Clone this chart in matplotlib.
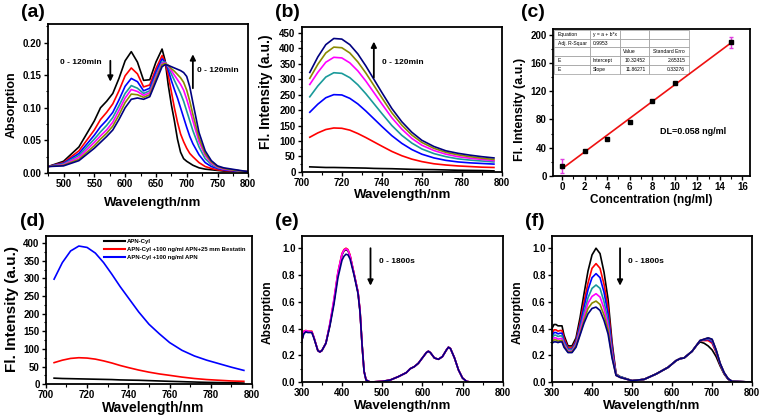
import matplotlib
matplotlib.use('Agg')
import matplotlib.pyplot as plt
from matplotlib.ticker import MultipleLocator, FormatStrFormatter

plt.rcParams['font.family'] = ['Liberation Sans', 'DejaVu Sans']
plt.rcParams['font.weight'] = 'bold'
plt.rcParams['axes.labelweight'] = 'bold'

colors7 = ['#000000', '#ff0000', '#0000ff', '#1a9a9a', '#ff00ff', '#8a8a00', '#000080']

# ---- (a) absorption vs time ----
wl_a = [475, 500, 525, 550, 560, 570, 580, 590, 600, 610, 620, 630, 640, 650, 660, 665,
        670, 675, 680, 685, 690, 695, 700, 705, 710, 720, 730, 740, 750, 760, 780, 800]
abs_a = [
    [0.010, 0.018, 0.040, 0.080, 0.100, 0.110, 0.122, 0.145, 0.172, 0.186, 0.170, 0.142, 0.143, 0.170, 0.190, 0.172,
     0.135, 0.105, 0.080, 0.052, 0.032, 0.022, 0.018, 0.015, 0.012, 0.008, 0.006, 0.005, 0.004, 0.003, 0.003, 0.002],
    [0.010, 0.016, 0.034, 0.066, 0.082, 0.093, 0.106, 0.126, 0.149, 0.161, 0.152, 0.132, 0.135, 0.160, 0.180, 0.170,
     0.150, 0.125, 0.100, 0.078, 0.060, 0.048, 0.038, 0.030, 0.025, 0.016, 0.010, 0.007, 0.005, 0.004, 0.003, 0.002],
    [0.010, 0.015, 0.030, 0.058, 0.071, 0.081, 0.093, 0.112, 0.133, 0.145, 0.140, 0.126, 0.130, 0.155, 0.175, 0.170,
     0.158, 0.142, 0.128, 0.115, 0.100, 0.085, 0.070, 0.056, 0.045, 0.028, 0.016, 0.010, 0.007, 0.005, 0.003, 0.002],
    [0.010, 0.014, 0.027, 0.052, 0.063, 0.073, 0.085, 0.103, 0.122, 0.134, 0.130, 0.122, 0.126, 0.150, 0.170, 0.170,
     0.162, 0.152, 0.142, 0.132, 0.122, 0.110, 0.095, 0.080, 0.065, 0.040, 0.022, 0.013, 0.008, 0.006, 0.004, 0.002],
    [0.010, 0.013, 0.024, 0.047, 0.057, 0.066, 0.078, 0.096, 0.115, 0.128, 0.125, 0.119, 0.123, 0.147, 0.168, 0.169,
     0.164, 0.157, 0.150, 0.143, 0.136, 0.127, 0.113, 0.097, 0.080, 0.048, 0.027, 0.015, 0.009, 0.006, 0.004, 0.002],
    [0.010, 0.012, 0.021, 0.042, 0.052, 0.061, 0.072, 0.089, 0.108, 0.121, 0.120, 0.116, 0.120, 0.144, 0.166, 0.168,
     0.165, 0.160, 0.156, 0.151, 0.146, 0.139, 0.127, 0.110, 0.090, 0.054, 0.030, 0.017, 0.010, 0.007, 0.004, 0.002],
    [0.010, 0.011, 0.019, 0.038, 0.047, 0.056, 0.066, 0.082, 0.100, 0.113, 0.115, 0.113, 0.117, 0.140, 0.163, 0.166,
     0.165, 0.163, 0.161, 0.159, 0.157, 0.154, 0.148, 0.132, 0.108, 0.062, 0.034, 0.019, 0.011, 0.008, 0.005, 0.002],
]

# ---- (b) fluorescence vs time ----
wl_b = [704, 708, 712, 716, 720, 724, 728, 732, 736, 740, 745, 750, 755, 760, 766, 772, 778, 784, 790, 796]
fl_b = [
    [16, 15, 14, 14, 13.5, 13, 12.5, 12, 11, 10.5, 10, 9, 8, 7.5, 7, 6, 5, 4.5, 4, 3],
    [112, 126, 137, 142, 141, 135, 124, 111, 97, 83, 66, 52, 41, 33, 26, 22, 19, 17, 15, 14],
    [193, 219, 240, 250, 249, 238, 220, 197, 172, 147, 117, 92, 72, 57, 45, 37, 32, 29, 27, 25],
    [243, 278, 307, 321, 319, 305, 282, 253, 221, 189, 150, 118, 93, 74, 59, 49, 42, 38, 35, 32],
    [283, 322, 355, 371, 369, 353, 327, 294, 257, 220, 175, 138, 108, 86, 69, 57, 49, 44, 40, 36],
    [303, 348, 385, 404, 402, 385, 356, 320, 280, 240, 191, 151, 119, 95, 76, 63, 55, 49, 44, 40],
    [322, 372, 412, 432, 430, 412, 382, 343, 300, 257, 205, 162, 128, 102, 82, 68, 60, 54, 49, 45],
]

# ---- (c) calibration ----
conc = [0, 2, 4, 6, 8, 10, 15]
fl_c = [14, 35, 52, 76, 106, 132, 189]
err_c = [10, 0, 0, 0, 0, 0, 8]
intercept = 10.32452
slope = 11.86271
table_rows = [
    ['Equation', 'y = a + b*x', '', ''],
    ['Adj. R-Squar', '0.9953', '', ''],
    ['', '', 'Value', 'Standard Erro'],
    ['E', 'Intercept', '10.32452', '2.65315'],
    ['E', 'Slope', '11.86271', '0.33276'],
]

# ---- (d) selectivity ----
wl_d = [704, 708, 712, 716, 720, 724, 728, 732, 736, 740, 745, 750, 755, 760, 766, 772, 778, 784, 790, 796]
fl_d_cyl = [17, 16, 15.5, 15, 14.5, 14, 13.5, 13, 12, 11.5, 11, 10, 9, 8, 7, 6, 5, 4.5, 4, 3]
fl_d_bes = [61, 68, 73, 75, 74, 71, 66, 60, 53, 47, 40, 34, 29, 25, 20, 16, 13, 11, 9, 8]
fl_d_apn = [298, 345, 378, 392, 388, 372, 345, 312, 277, 245, 205, 170, 143, 118, 96, 80, 68, 58, 48, 39]
labels_d = ['APN-Cyl', 'APN-Cyl +100 ng/ml APN+25 mm Bestatin', 'APN-Cyl +100 ng/ml APN']

# ---- (e) absorption 0-1800 s ----
wl_e = [300, 305, 310, 315, 320, 325, 330, 340, 345, 350, 360, 370, 380, 390, 400, 405, 410, 415, 420, 430,
        440, 445, 450, 455, 460, 470, 500, 520, 540, 560, 570, 580, 590, 600, 610, 615, 620, 630, 640, 650,
        660, 665, 670, 680, 690, 700, 710, 720, 800]
abs_e = [
    [0.31, 0.37, 0.38, 0.375, 0.375, 0.375, 0.335, 0.235, 0.225, 0.235, 0.29, 0.43, 0.60, 0.81, 0.95, 0.98, 0.99, 0.98,
     0.945, 0.81, 0.67, 0.53, 0.28, 0.08, 0.015, 0.0, 0.005, 0.015, 0.04, 0.07, 0.10, 0.115, 0.14, 0.18, 0.22, 0.23,
     0.22, 0.18, 0.17, 0.19, 0.24, 0.26, 0.25, 0.18, 0.09, 0.03, 0.005, 0.0, 0.0],
    [0.31, 0.38, 0.385, 0.38, 0.38, 0.38, 0.335, 0.235, 0.225, 0.235, 0.29, 0.43, 0.61, 0.82, 0.96, 0.99, 1.0, 0.99,
     0.95, 0.81, 0.67, 0.53, 0.28, 0.08, 0.015, 0.0, 0.005, 0.015, 0.04, 0.07, 0.10, 0.115, 0.14, 0.18, 0.22, 0.23,
     0.22, 0.18, 0.17, 0.19, 0.24, 0.26, 0.25, 0.18, 0.09, 0.03, 0.005, 0.0, 0.0],
    [0.31, 0.375, 0.385, 0.38, 0.375, 0.375, 0.335, 0.235, 0.225, 0.235, 0.29, 0.44, 0.62, 0.82, 0.955, 0.985, 0.995, 0.985,
     0.945, 0.81, 0.67, 0.53, 0.28, 0.08, 0.015, 0.0, 0.005, 0.015, 0.04, 0.07, 0.10, 0.115, 0.14, 0.18, 0.22, 0.23,
     0.22, 0.18, 0.17, 0.19, 0.24, 0.26, 0.25, 0.18, 0.09, 0.03, 0.005, 0.0, 0.0],
    [0.31, 0.36, 0.375, 0.37, 0.37, 0.37, 0.33, 0.235, 0.225, 0.235, 0.29, 0.42, 0.58, 0.78, 0.91, 0.94, 0.955, 0.95,
     0.92, 0.80, 0.66, 0.52, 0.28, 0.08, 0.015, 0.0, 0.005, 0.015, 0.04, 0.07, 0.10, 0.115, 0.14, 0.18, 0.22, 0.23,
     0.22, 0.18, 0.17, 0.19, 0.24, 0.26, 0.25, 0.18, 0.09, 0.03, 0.005, 0.0, 0.0],
]
colors_e = ['#000000', '#ff0000', '#ff00ff', '#000080']

# ---- (f) absorption 0-1800 s ----
wl_f = [300, 305, 310, 315, 320, 325, 330, 340, 350, 360, 370, 380, 390, 400, 410, 420, 430, 440, 450, 460,
        470, 500, 530, 560, 590, 610, 620, 630, 650, 660, 670, 680, 690, 700, 710, 720, 730, 740, 750, 800]
abs_f = [
    [0.40, 0.43, 0.43, 0.42, 0.42, 0.42, 0.35, 0.27, 0.27, 0.33, 0.48, 0.66, 0.83, 0.95, 1.00, 0.96, 0.82, 0.62, 0.30, 0.06,
     0.04, 0.01, 0.02, 0.06, 0.11, 0.16, 0.175, 0.18, 0.23, 0.27, 0.30, 0.29, 0.27, 0.24, 0.19, 0.12, 0.06, 0.02, 0.005, 0.0],
    [0.36, 0.39, 0.39, 0.38, 0.385, 0.385, 0.33, 0.255, 0.255, 0.31, 0.44, 0.60, 0.74, 0.85, 0.885, 0.85, 0.73, 0.56, 0.27, 0.06,
     0.04, 0.01, 0.02, 0.06, 0.11, 0.16, 0.175, 0.18, 0.23, 0.27, 0.31, 0.31, 0.31, 0.29, 0.22, 0.13, 0.065, 0.022, 0.005, 0.0],
    [0.34, 0.37, 0.37, 0.36, 0.365, 0.365, 0.31, 0.245, 0.245, 0.30, 0.42, 0.56, 0.69, 0.78, 0.81, 0.78, 0.67, 0.51, 0.25, 0.055,
     0.04, 0.01, 0.02, 0.06, 0.11, 0.16, 0.175, 0.18, 0.23, 0.27, 0.31, 0.315, 0.32, 0.30, 0.23, 0.135, 0.068, 0.023, 0.005, 0.0],
    [0.32, 0.35, 0.35, 0.34, 0.345, 0.345, 0.295, 0.24, 0.24, 0.29, 0.40, 0.52, 0.63, 0.70, 0.725, 0.70, 0.60, 0.46, 0.22, 0.055,
     0.04, 0.01, 0.02, 0.06, 0.11, 0.16, 0.175, 0.18, 0.23, 0.27, 0.31, 0.318, 0.325, 0.31, 0.235, 0.138, 0.069, 0.024, 0.005, 0.0],
    [0.31, 0.33, 0.33, 0.32, 0.325, 0.325, 0.28, 0.23, 0.23, 0.28, 0.38, 0.49, 0.59, 0.64, 0.66, 0.635, 0.55, 0.42, 0.21, 0.05,
     0.035, 0.01, 0.02, 0.06, 0.11, 0.16, 0.175, 0.18, 0.23, 0.27, 0.31, 0.32, 0.328, 0.315, 0.238, 0.14, 0.07, 0.025, 0.005, 0.0],
    [0.30, 0.315, 0.315, 0.305, 0.31, 0.31, 0.27, 0.225, 0.225, 0.27, 0.36, 0.46, 0.55, 0.59, 0.605, 0.58, 0.50, 0.39, 0.19, 0.05,
     0.035, 0.01, 0.02, 0.06, 0.11, 0.16, 0.175, 0.18, 0.23, 0.27, 0.31, 0.32, 0.33, 0.318, 0.24, 0.14, 0.07, 0.025, 0.005, 0.0],
    [0.29, 0.30, 0.30, 0.295, 0.30, 0.30, 0.26, 0.22, 0.22, 0.26, 0.35, 0.44, 0.51, 0.55, 0.56, 0.535, 0.46, 0.36, 0.18, 0.05,
     0.035, 0.01, 0.02, 0.06, 0.11, 0.16, 0.175, 0.18, 0.23, 0.27, 0.31, 0.32, 0.33, 0.32, 0.24, 0.14, 0.07, 0.025, 0.005, 0.0],
]

fig = plt.figure(figsize=(7.64, 4.18), dpi=100)


def style(ax, xmaj, xmin, ymaj, ymin):
    for s in ax.spines.values():
        s.set_linewidth(1.3)
    ax.xaxis.set_major_locator(MultipleLocator(xmaj))
    ax.xaxis.set_minor_locator(MultipleLocator(xmin))
    ax.yaxis.set_major_locator(MultipleLocator(ymaj))
    ax.yaxis.set_minor_locator(MultipleLocator(ymin))
    ax.tick_params(which='major', direction='out', length=3, width=1, labelsize=7, pad=1.5)
    ax.tick_params(which='minor', direction='out', length=1.8, width=0.8)
    for t in ax.get_xticklabels() + ax.get_yticklabels():
        t.set_fontweight('bold')


def labels(ax, xl, yl, xpos, ypos, xs=9.5, ys=9):
    # label coords: xlabel anchored at its top, ylabel at its right edge
    ax.set_xlabel(xl, fontsize=xs, fontweight='bold')
    ax.set_ylabel(yl, fontsize=ys, fontweight='bold')
    ax.xaxis.set_label_coords(*xpos)
    ax.yaxis.set_label_coords(*ypos)


arrow = dict(arrowstyle='-|>', color='black', lw=1.3, mutation_scale=8, shrinkA=0, shrinkB=0)

# (a)
ax = fig.add_axes([0.063, 0.586, 0.262, 0.356])
for c, y in zip(colors7, abs_a):
    ax.plot(wl_a, y, color=c, lw=1.2)
ax.set_xlim(475, 800)
ax.set_ylim(0, 0.228)
style(ax, 50, 25, 0.05, 0.025)
ax.yaxis.set_major_formatter(FormatStrFormatter('%.2f'))
labels(ax, 'Wavelength/nm', 'Absorption', (0.52, -0.158), (-0.15, 0.46), 9.5, 9)
ax.annotate('', xy=(576, 0.140), xytext=(576, 0.172), arrowprops=arrow)
ax.text(494, 0.170, '0 - 120min', fontsize=6, fontweight='bold', va='center')
ax.annotate('', xy=(710, 0.182), xytext=(710, 0.130), arrowprops=arrow)
ax.text(716, 0.157, '0 - 120min', fontsize=6, fontweight='bold', va='center')

# (b)
ax = fig.add_axes([0.395, 0.589, 0.262, 0.347])
for c, y in zip(colors7, fl_b):
    ax.plot(wl_b, y, color=c, lw=1.2)
ax.set_xlim(700, 800)
ax.set_ylim(0, 470)
style(ax, 20, 10, 50, 25)
labels(ax, 'Wavelength/nm', 'Fl. Intensity (a.u.)', (0.505, -0.12), (-0.145, 0.55), 9.5, 10)
ax.annotate('', xy=(736, 422), xytext=(736, 305), arrowprops=arrow)
ax.text(740, 354, '0 - 120min', fontsize=6, fontweight='bold', va='center')

# (c)
ax = fig.add_axes([0.724, 0.579, 0.258, 0.352])
ax.plot([conc[0], conc[-1]], [intercept + slope * conc[0], intercept + slope * conc[-1]], color='#ee1111', lw=1.2)
ax.errorbar(conc, fl_c, yerr=err_c, fmt='s', color='black', ms=2.5, ecolor='#e040e0',
            elinewidth=1, capsize=1.5, zorder=3)
ax.set_xlim(-0.8, 16.7)
ax.set_ylim(0, 208)
style(ax, 2, 1, 40, 20)
labels(ax, 'Concentration (ng/ml)', 'Fl. Intensity (a.u.)', (0.50, -0.12), (-0.137, 0.45), 8.5, 9)
ax.text(8.7, 63, 'DL=0.058 ng/ml', fontsize=6.5, fontweight='bold', va='center')
tb = ax.table(cellText=table_rows, bbox=[0.005, 0.694, 0.685, 0.299],
              colWidths=[0.264, 0.222, 0.215, 0.299], cellLoc='left')
tb.auto_set_font_size(False)
for (r, cidx), cell in tb.get_celld().items():
    cell.set_edgecolor('#9a9a9a')
    cell.set_linewidth(0.5)
    cell.set_facecolor('white')
    cell.get_text().set_fontsize(3.6)
    cell.get_text().set_fontweight('normal')
    if r >= 3 and cidx >= 2:
        cell.get_text().set_horizontalalignment('right')
        cell._loc = 'right'

# (d)
ax = fig.add_axes([0.060, 0.081, 0.270, 0.354])
ax.plot(wl_d, fl_d_cyl, color='black', lw=1.2, label=labels_d[0])
ax.plot(wl_d, fl_d_bes, color='#ff0000', lw=1.2, label=labels_d[1])
ax.plot(wl_d, fl_d_apn, color='#0000ff', lw=1.2, label=labels_d[2])
ax.set_xlim(700, 800)
ax.set_ylim(0, 420)
style(ax, 20, 10, 50, 25)
labels(ax, 'Wavelength/nm', 'Fl. Intensity (a.u.)', (0.52, -0.112), (-0.131, 0.51), 10, 11)
leg = ax.legend(loc='upper left', bbox_to_anchor=(0.26, 1.01), frameon=False,
                prop={'size': 4.3, 'weight': 'bold'}, handlelength=3.5, handletextpad=0.4,
                labelspacing=0.45, borderpad=0.2)
for ln in leg.get_lines():
    ln.set_linewidth(1.5)

# (e)
ax = fig.add_axes([0.395, 0.086, 0.263, 0.349])
for c, y in zip(colors_e, abs_e):
    ax.plot(wl_e, y, color=c, lw=1.2)
ax.set_xlim(300, 800)
ax.set_ylim(0, 1.09)
style(ax, 100, 50, 0.2, 0.1)
ax.yaxis.set_major_formatter(FormatStrFormatter('%.1f'))
labels(ax, 'Wavelength/nm', 'Absorption', (0.50, -0.12), (-0.139, 0.48), 9.5, 8.6)
ax.annotate('', xy=(471, 0.72), xytext=(471, 1.0), arrowprops=arrow)
ax.text(491, 0.898, '0 - 1800s', fontsize=6, fontweight='bold', va='center')

# (f)
ax = fig.add_axes([0.7225, 0.086, 0.262, 0.349])
for c, y in zip(colors7, abs_f):
    ax.plot(wl_f, y, color=c, lw=1.2)
ax.set_xlim(300, 800)
ax.set_ylim(0, 1.09)
style(ax, 100, 50, 0.2, 0.1)
ax.yaxis.set_major_formatter(FormatStrFormatter('%.1f'))
labels(ax, 'Wavelength/nm', 'Absorption', (0.50, -0.12), (-0.14, 0.48), 9.5, 8.6)
ax.annotate('', xy=(470, 0.72), xytext=(470, 1.0), arrowprops=arrow)
ax.text(490, 0.9, '0 - 1800s', fontsize=6, fontweight='bold', va='center')

# panel letters
for lab, (x, y) in zip(['(a)', '(b)', '(c)', '(d)', '(e)', '(f)'],
                       [(0.043, 0.969), (0.376, 0.969), (0.698, 0.969),
                        (0.043, 0.471), (0.376, 0.471), (0.700, 0.471)]):
    fig.text(x, y, lab, fontsize=14, fontweight='bold', ha='center', va='center')

fig.savefig('out.png', dpi=100)
